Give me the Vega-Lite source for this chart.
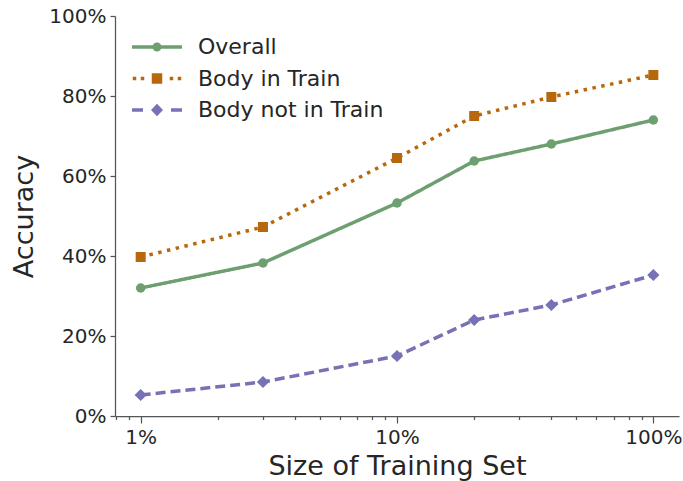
{
  "$schema": "https://vega.github.io/schema/vega-lite/v6.json",
  "width": 564,
  "height": 400,
  "autosize": {"type": "none"},
  "padding": {"left": 115, "top": 16, "right": 4, "bottom": 65},
  "config": {
    "font": "DejaVu Sans",
    "view": {"stroke": null},
    "axis": {
      "grid": false,
      "domainColor": "#555555",
      "domainWidth": 1.25,
      "tickColor": "#555555",
      "tickWidth": 1.25,
      "labelFont": "DejaVu Sans",
      "labelFontSize": 20,
      "labelColor": "#262626",
      "titleFont": "DejaVu Sans",
      "titleFontSize": 27,
      "titleFontWeight": "normal",
      "titleColor": "#262626"
    }
  },
  "data": {
    "values": [
      {"size": 1, "series": "Overall", "accuracy": 32.0},
      {"size": 3, "series": "Overall", "accuracy": 38.25},
      {"size": 10, "series": "Overall", "accuracy": 53.25},
      {"size": 20, "series": "Overall", "accuracy": 63.75},
      {"size": 40, "series": "Overall", "accuracy": 68.0},
      {"size": 100, "series": "Overall", "accuracy": 74.0},
      {"size": 1, "series": "Body in Train", "accuracy": 39.75},
      {"size": 3, "series": "Body in Train", "accuracy": 47.25},
      {"size": 10, "series": "Body in Train", "accuracy": 64.5},
      {"size": 20, "series": "Body in Train", "accuracy": 75.0},
      {"size": 40, "series": "Body in Train", "accuracy": 79.75},
      {"size": 100, "series": "Body in Train", "accuracy": 85.25},
      {"size": 1, "series": "Body not in Train", "accuracy": 5.25},
      {"size": 3, "series": "Body not in Train", "accuracy": 8.5},
      {"size": 10, "series": "Body not in Train", "accuracy": 15.0},
      {"size": 20, "series": "Body not in Train", "accuracy": 24.0},
      {"size": 40, "series": "Body not in Train", "accuracy": 27.75},
      {"size": 100, "series": "Body not in Train", "accuracy": 35.25}
    ]
  },
  "encoding": {
    "y": {"field": "accuracy", "type": "quantitative"},
    "color": {
      "field": "series",
      "type": "nominal",
      "scale": {
        "domain": ["Overall", "Body in Train", "Body not in Train"],
        "range": ["#6d9f71", "#b8680c", "#7771b5"]
      }
    }
  },
  "layer": [
    {
      "mark": {"type": "line", "strokeWidth": 3.5, "strokeCap": "butt"},
      "encoding": {
        "x": {
          "field": "size",
          "type": "quantitative",
          "scale": {"type": "log", "domain": [0.794, 125.9], "nice": false},
          "axis": {
            "orient": "bottom",
            "values": [1, 10, 100],
            "labelExpr": "datum.value + '%'",
            "title": "Size of Training Set",
            "tickSize": 7,
            "labelPadding": 4,
            "titlePadding": 6
          }
        },
        "y": {
          "field": "accuracy",
          "type": "quantitative",
          "scale": {"domain": [0, 100], "nice": false},
          "axis": {
            "values": [0, 20, 40, 60, 80, 100],
            "labelExpr": "datum.value + '%'",
            "title": "Accuracy",
            "tickSize": 5,
            "labelPadding": 4,
            "titlePadding": 10
          }
        },
        "color": {
          "field": "series",
          "type": "nominal",
          "legend": {
            "orient": "none",
            "legendX": 17,
            "legendY": 20,
            "title": null,
            "labelFont": "DejaVu Sans",
            "labelFontSize": 22,
            "labelColor": "#262626",
            "labelLimit": 400,
            "symbolSize": 2500,
            "clipHeight": 22,
            "rowPadding": 9.5,
            "labelOffset": 16,
            "encode": {
              "symbols": {
                "update": {
                  "shape": {"signal": "datum.value === 'Overall' ? 'M-1,-0.07H1V0.07H-1Z M-0.18,0A0.18,0.18 0 1,1 0.18,0A0.18,0.18 0 1,1 -0.18,0Z' : datum.value === 'Body in Train' ? 'M-0.97,-0.07H-0.83V0.07H-0.97Z M-0.65,-0.07H-0.51V0.07H-0.65Z M0.51,-0.07H0.65V0.07H0.51Z M0.83,-0.07H0.97V0.07H0.83Z M-0.21,-0.21H0.21V0.21H-0.21Z' : 'M-1,-0.07H-0.56V0.07H-1Z M0.56,-0.07H1V0.07H0.56Z M0,-0.25L0.24,0L0,0.25L-0.24,0Z'"},
                  "fill": {"signal": "scale('color', datum.value)"},
                  "fillOpacity": {"value": 1},
                  "opacity": {"value": 1},
                  "strokeWidth": {"value": 0}
                }
              }
            }
          }
        },
        "strokeDash": {
          "field": "series",
          "type": "nominal",
          "scale": {
            "domain": ["Overall", "Body in Train", "Body not in Train"],
            "range": [[1, 0], [3.5, 5.5], [10, 5]]
          },
          "legend": null
        }
      }
    },
    {
      "transform": [{"filter": {"field": "series", "equal": "Overall"}}],
      "mark": {"type": "point", "shape": "circle", "filled": true, "opacity": 1, "size": 90},
      "encoding": {
        "x": {
          "field": "size",
          "type": "quantitative",
          "axis": {
            "orient": "bottom",
            "values": [0.8, 0.9, 2, 3, 4, 5, 6, 7, 8, 9, 20, 30, 40, 50, 60, 70, 80, 90],
            "labels": false,
            "domain": false,
            "tickSize": 3.5,
            "title": null
          }
        }
      }
    },
    {
      "transform": [{"filter": {"field": "series", "equal": "Body in Train"}}],
      "mark": {"type": "point", "shape": "square", "filled": true, "opacity": 1, "size": 100},
      "encoding": {"x": {"field": "size", "type": "quantitative", "axis": null}}
    },
    {
      "transform": [{"filter": {"field": "series", "equal": "Body not in Train"}}],
      "mark": {"type": "point", "shape": "diamond", "filled": true, "opacity": 1, "size": 150},
      "encoding": {"x": {"field": "size", "type": "quantitative", "axis": null}}
    }
  ],
  "resolve": {"axis": {"x": "independent"}}
}
